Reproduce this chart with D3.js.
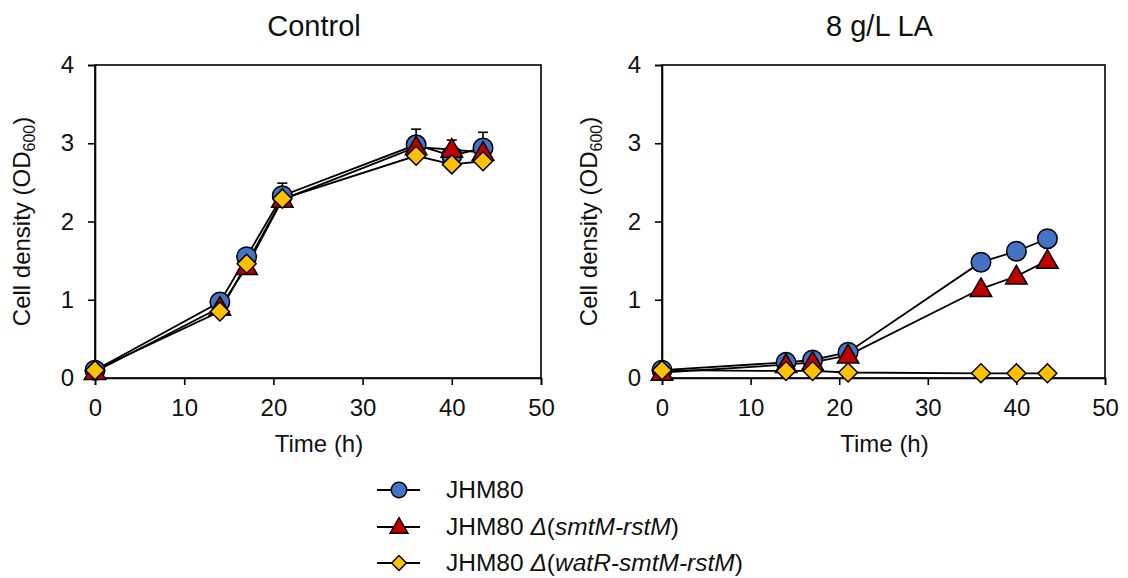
<!DOCTYPE html>
<html>
<head>
<meta charset="utf-8">
<script src="https://cdn.jsdelivr.net/npm/d3@7"></script>
<style>
  html, body { margin: 0; padding: 0; background: #fff; }
  svg { display: block; font-family: "Liberation Sans", Arial, sans-serif; }
</style>
</head>
<body>
<svg id="chart" width="1128" height="578"></svg>
<script>
// Sampling times (h)
const times = [0, 14, 17, 21, 36, 40, 43.5];

// Strains
const strains = ["JHM80", "JHM80 Δ(smtM-rstM)", "JHM80 Δ(watR-smtM-rstM)"];

// Control medium: OD600
const controlWT    = [0.10, 0.97, 1.55, 2.33, 2.98, 2.84, 2.94];
const controlSR    = [0.08, 0.90, 1.42, 2.28, 2.95, 2.92, 2.88];
const controlWSR   = [0.10, 0.85, 1.46, 2.29, 2.84, 2.73, 2.77];
// Control medium: standard deviation
const controlWTErr  = [0.02, 0.05, 0.06, 0.16, 0.20, 0.06, 0.20];
const controlSRErr  = [0.01, 0.04, 0.05, 0.10, 0.12, 0.12, 0.06];
const controlWSRErr = [0.01, 0.04, 0.05, 0.06, 0.06, 0.05, 0.05];

// 8 g/L LA: OD600
const laWT  = [0.10, 0.20, 0.23, 0.33, 1.48, 1.62, 1.78];
const laSR  = [0.07, 0.17, 0.20, 0.29, 1.14, 1.30, 1.50];
const laWSR = [0.10, 0.09, 0.09, 0.07, 0.06, 0.06, 0.06];

const panelTitles = ["Control", "8 g/L LA"];
const xTicks = [0, 10, 20, 30, 40, 50];
const yTicks = [0, 1, 2, 3, 4];

// Square diamond (rotated square) marker
const symbolSquareDiamond = {
  draw(context, size) {
    const r = Math.sqrt(size / 2);
    context.moveTo(0, -r);
    context.lineTo(r, 0);
    context.lineTo(0, r);
    context.lineTo(-r, 0);
    context.closePath();
  }
};

const colors = ["#4472C4", "#C00000", "#FFC000"];
const shapes = [d3.symbolCircle, d3.symbolTriangle, symbolSquareDiamond];
const markerSizes = [300, 200, 180];

const panels = [
  { title: panelTitles[0], left: 95, right: 541,
    series: [controlWT, controlSR, controlWSR],
    errors: [controlWTErr, controlSRErr, controlWSRErr] },
  { title: panelTitles[1], left: 662, right: 1105,
    series: [laWT, laSR, laWSR],
    errors: null }
];

const plotTop = 65, plotBottom = 378;
const svg = d3.select("#chart");
const ink = "#000";
const textColor = "#111";
const font = "'Liberation Sans', Arial, sans-serif";

panels.forEach(p => {
  const x = d3.scaleLinear().domain([0, 50]).range([p.left, p.right]);
  const y = d3.scaleLinear().domain([0, 4]).range([plotBottom, plotTop]);
  const g = svg.append("g");

  // Frame
  g.append("rect")
    .attr("x", p.left).attr("y", plotTop)
    .attr("width", p.right - p.left).attr("height", plotBottom - plotTop)
    .attr("fill", "none").attr("stroke", ink).attr("stroke-width", 1.6);

  // Axes
  const xAxis = g.append("g")
    .attr("transform", `translate(0,${plotBottom})`)
    .call(d3.axisBottom(x).tickValues(xTicks).tickFormat(d3.format("d"))
      .tickSize(7).tickPadding(14));
  const yAxis = g.append("g")
    .attr("transform", `translate(${p.left},0)`)
    .call(d3.axisLeft(y).tickValues(yTicks).tickFormat(d3.format("d"))
      .tickSize(7).tickPadding(14));
  [xAxis, yAxis].forEach(a => {
    a.attr("font-size", null).attr("font-family", null);
    a.select(".domain").attr("stroke", ink).attr("stroke-width", 1.6);
    a.selectAll(".tick line").attr("stroke", ink).attr("stroke-width", 1.6);
    a.selectAll(".tick text")
      .attr("fill", textColor)
      .style("font-size", "24px")
      .style("font-family", font);
  });

  // Title
  g.append("text")
    .attr("x", (p.left + p.right) / 2 - 4).attr("y", 36)
    .attr("text-anchor", "middle")
    .attr("fill", textColor)
    .style("font-size", "29px")
    .text(p.title);

  // X-axis title
  g.append("text")
    .attr("x", (p.left + p.right) / 2 + 1).attr("y", 452)
    .attr("text-anchor", "middle")
    .attr("fill", textColor)
    .style("font-size", "24px")
    .text("Time (h)");

  // Y-axis title with subscript
  const yl = g.append("text")
    .attr("transform", `translate(${p.left - 65},${(plotTop + plotBottom) / 2}) rotate(-90)`)
    .attr("text-anchor", "middle")
    .attr("fill", textColor)
    .style("font-size", "24px");
  yl.append("tspan").text("Cell density (OD");
  yl.append("tspan").text("600").style("font-size", "16px").attr("dy", 5);
  yl.append("tspan").text(")").attr("dy", -5);

  const line = d3.line().x((d, i) => x(times[i])).y(d => y(d));

  // Connecting lines
  p.series.forEach(vals => {
    g.append("path")
      .attr("d", line(vals))
      .attr("fill", "none")
      .attr("stroke", ink)
      .attr("stroke-width", 1.8);
  });

  // Error bars (upper whisker with cap)
  if (p.errors) {
    p.series.forEach((vals, s) => {
      vals.forEach((v, i) => {
        const e = p.errors[s][i];
        const cx = x(times[i]);
        g.append("line")
          .attr("x1", cx).attr("x2", cx)
          .attr("y1", y(v)).attr("y2", y(v + e))
          .attr("stroke", ink).attr("stroke-width", 1.6);
        g.append("line")
          .attr("x1", cx - 5).attr("x2", cx + 5)
          .attr("y1", y(v + e)).attr("y2", y(v + e))
          .attr("stroke", ink).attr("stroke-width", 1.6);
      });
    });
  }

  // Markers
  p.series.forEach((vals, s) => {
    const sym = d3.symbol().type(shapes[s]).size(markerSizes[s]);
    g.selectAll(null)
      .data(vals)
      .join("path")
      .attr("d", sym)
      .attr("transform", (d, i) => `translate(${x(times[i])},${y(d) + (s === 1 ? 1.5 : 0)})`)
      .attr("fill", colors[s])
      .attr("stroke", ink)
      .attr("stroke-width", 1.5);
  });
});

// Legend
const legend = svg.append("g");
const legendRows = [490, 527, 563];
const legendSizes = [190, 140, 110];
strains.forEach((name, i) => {
  const ly = legendRows[i];
  legend.append("line")
    .attr("x1", 377).attr("x2", 420)
    .attr("y1", ly).attr("y2", ly)
    .attr("stroke", ink).attr("stroke-width", 1.8);
  legend.append("path")
    .attr("d", d3.symbol().type(shapes[i]).size(legendSizes[i]))
    .attr("transform", `translate(399,${ly + (i === 1 ? 1 : 0)})`)
    .attr("fill", colors[i])
    .attr("stroke", ink)
    .attr("stroke-width", 1.4);

  const t = legend.append("text")
    .attr("x", 446).attr("y", ly + 8)
    .attr("fill", textColor)
    .style("font-size", "24.5px");
  const m = name.match(/^(\S+) Δ\((.+)\)$/);
  if (m) {
    t.append("tspan").text(m[1] + " ");
    t.append("tspan").text("Δ").style("font-style", "italic");
    t.append("tspan").text("(");
    t.append("tspan").text(m[2]).style("font-style", "italic");
    t.append("tspan").text(")");
  } else {
    t.text(name);
  }
});
</script>
</body>
</html>
